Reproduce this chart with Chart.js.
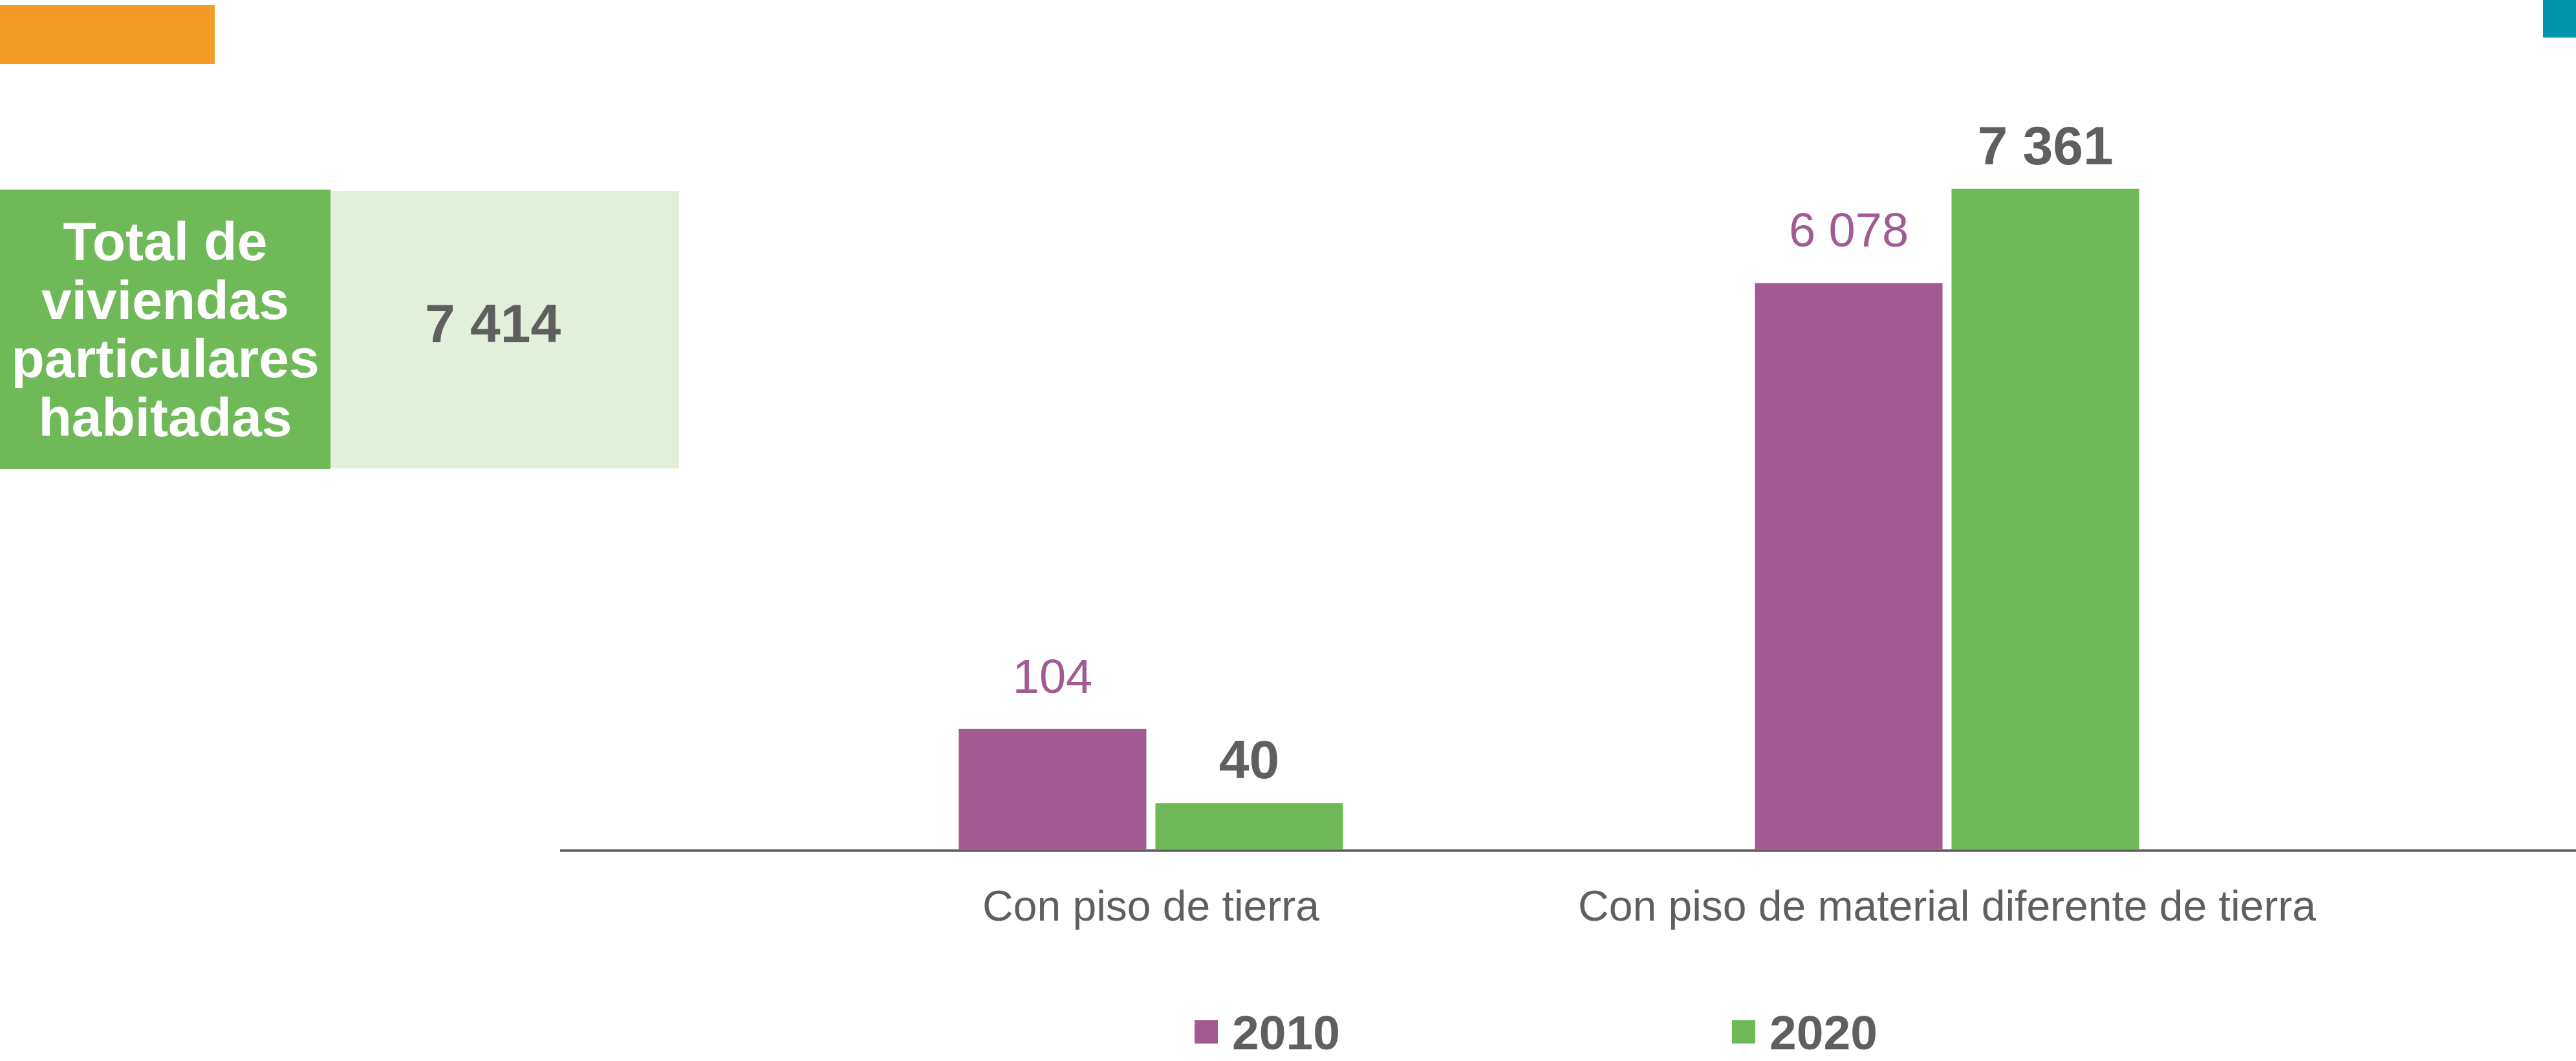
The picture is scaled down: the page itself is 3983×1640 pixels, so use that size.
<!DOCTYPE html>
<html lang="es">
<head>
<meta charset="utf-8">
<title>Viviendas particulares habitadas por material de piso</title>
<script src="https://cdn.jsdelivr.net/npm/chart.js@4.4.1/dist/chart.umd.min.js"></script>
<style>
    html, body {
        margin: 0;
        padding: 0;
        background: #ffffff;
    }
    body {
        position: relative;
        width: 3983px;
        height: 1640px;
        overflow: hidden;
        font-family: "Liberation Sans", Arial, Helvetica, sans-serif;
        color: #5f5f5f;
    }
    #chart {
        position: absolute;
        left: 0;
        top: 0;
    }
    .tab-naranja {
        position: absolute;
        left: 0; top: 8px;
        width: 332px; height: 91px;
        background: #f39a27;
    }
    .tab-azul {
        position: absolute;
        left: 3932px; top: 0;
        width: 51px; height: 58px;
        background: #0095a8;
    }
    .total-etiqueta {
        position: absolute;
        left: 0; top: 293px;
        width: 511px; height: 432px;
        background: #6fb959;
        color: #ffffff;
        font-weight: bold;
        font-size: 84px;
        line-height: 90.5px;
        text-align: center;
        display: flex;
        align-items: center;
        justify-content: center;
    }
    .total-valor {
        position: absolute;
        left: 511px; top: 295px;
        width: 539px; height: 429px;
        box-sizing: border-box;
        padding: 0 37px 19px 0;
        background: #e2efda;
        font-weight: bold;
        font-size: 84px;
        line-height: 84px;
        display: flex;
        align-items: center;
        justify-content: center;
    }
    .leyenda-item {
        position: absolute;
        top: 1559px;
        height: 80px;
        font-weight: bold;
        font-size: 75px;
        line-height: 75px;
    }
    .leyenda-item .caja {
        position: absolute;
        left: 0; top: 18px;
        width: 36px; height: 36px;
    }
    .leyenda-item .texto {
        position: absolute;
        left: 58px; top: 0;
        white-space: nowrap;
    }
</style>
</head>
<body>
<div class="tab-naranja"></div>
<div class="tab-azul"></div>
<div class="total-etiqueta">Total de<br>viviendas<br>particulares<br>habitadas</div>
<div class="total-valor" id="total-valor"></div>
<canvas id="chart" width="3983" height="1640"></canvas>
<div id="leyenda"></div>

<script>
// Datos: viviendas particulares habitadas segun material de piso
var categorias = ['Con piso de tierra', 'Con piso de material diferente de tierra'];
var anios = ['2010', '2020'];
var valores2010 = [104, 6078];
var valores2020 = [40, 7361];
var totalViviendas = 7414;

var colorMorado = '#a25a92';
var colorVerde = '#6fb959';
var colorGris = '#5f5f5f';
var FUENTE = '"Liberation Sans", Arial, Helvetica, sans-serif';

// separador de miles con espacio (7 414)
function formatoMiles(n) {
    return n.toLocaleString('en-US').replace(/,/g, ' ');
}

document.getElementById('total-valor').textContent = formatoMiles(totalViviendas);

// Leyenda en HTML (los elementos quedan muy separados entre si)
var leyenda = document.getElementById('leyenda');
[colorMorado, colorVerde].forEach(function (color, i) {
    var item = document.createElement('div');
    item.className = 'leyenda-item';
    item.style.left = (1847 + i * 831) + 'px';
    item.innerHTML = '<span class="caja" style="background:' + color + '"></span><span class="texto">' + anios[i] + '</span>';
    leyenda.appendChild(item);
});

// -------------------------------------------------------------------------
// Escala lineal con corte: el tramo 0..breakValue ocupa breakFraction
// de la altura, el resto se reparte linealmente hasta el maximo
// -------------------------------------------------------------------------
class BrokenLinearScale extends Chart.LinearScale {
    _fraccion(value) {
        var corte = this.options.breakValue;
        var q = this.options.breakFraction;
        if (value <= corte) return q * value / corte;
        return q + (1 - q) * (value - corte) / (this.max - corte);
    }
    getPixelForValue(value) {
        if (value === undefined || value === null) return NaN;
        return this.getPixelForDecimal(this._fraccion(value));
    }
    getValueForPixel(pixel) {
        var f = this.getDecimalForPixel(pixel);
        var corte = this.options.breakValue;
        var q = this.options.breakFraction;
        if (f <= q) return f / q * corte;
        return corte + (f - q) / (1 - q) * (this.max - corte);
    }
}
BrokenLinearScale.id = 'brokenLinear';
Chart.register(BrokenLinearScale);

// linea base que corre desde el panel hasta el borde derecho
var AXIS_LINE_START = 866;
var lineaBase = {
    id: 'lineaBase',
    beforeDatasetsDraw: function (chart) {
        var ctx = chart.ctx;
        var y = chart.scales.y.getPixelForValue(0) + 2;
        ctx.save();
        ctx.strokeStyle = colorGris;
        ctx.lineWidth = 4;
        ctx.beginPath();
        ctx.moveTo(AXIS_LINE_START, y);
        ctx.lineTo(chart.width, y);
        ctx.stroke();
        ctx.restore();
    }
};

// etiquetas de valor encima de cada barra
var estilosEtiqueta = [
    { font: 'normal 74px ' + FUENTE, color: colorMorado, offset: 56 },
    { font: 'bold 84px ' + FUENTE, color: colorGris, offset: 38 }
];
var etiquetasValor = {
    id: 'etiquetasValor',
    afterDatasetsDraw: function (chart) {
        var ctx = chart.ctx;
        ctx.save();
        ctx.textAlign = 'center';
        ctx.textBaseline = 'alphabetic';
        chart.data.datasets.forEach(function (ds, di) {
            var estilo = estilosEtiqueta[di];
            ctx.font = estilo.font;
            ctx.fillStyle = estilo.color;
            chart.getDatasetMeta(di).data.forEach(function (bar, i) {
                ctx.fillText(formatoMiles(ds.data[i]), bar.x, bar.y - estilo.offset);
            });
        });
        ctx.restore();
    }
};

var ctx = document.getElementById('chart').getContext('2d');
new Chart(ctx, {
    type: 'bar',
    data: {
        labels: categorias,
        datasets: [
            { label: anios[0], data: valores2010, backgroundColor: colorMorado },
            { label: anios[1], data: valores2020, backgroundColor: colorVerde }
        ]
    },
    options: {
        responsive: false,
        animation: false,
        devicePixelRatio: 1,
        layout: {
            padding: { left: 1164, right: 357, top: 219, bottom: 144 }
        },
        datasets: {
            bar: { categoryPercentage: 0.494, barPercentage: 0.954, borderWidth: 0 }
        },
        scales: {
            x: {
                grid: { display: false, drawTicks: false },
                border: { display: false },
                ticks: {
                    padding: 52,
                    color: colorGris,
                    font: { family: FUENTE, size: 66 }
                }
            },
            y: {
                type: 'brokenLinear',
                display: false,
                min: 0,
                max: 8000,
                breakValue: 110,
                breakFraction: 0.18
            }
        },
        plugins: {
            legend: { display: false },
            tooltip: { enabled: false }
        }
    },
    plugins: [lineaBase, etiquetasValor]
});
</script>
</body>
</html>
